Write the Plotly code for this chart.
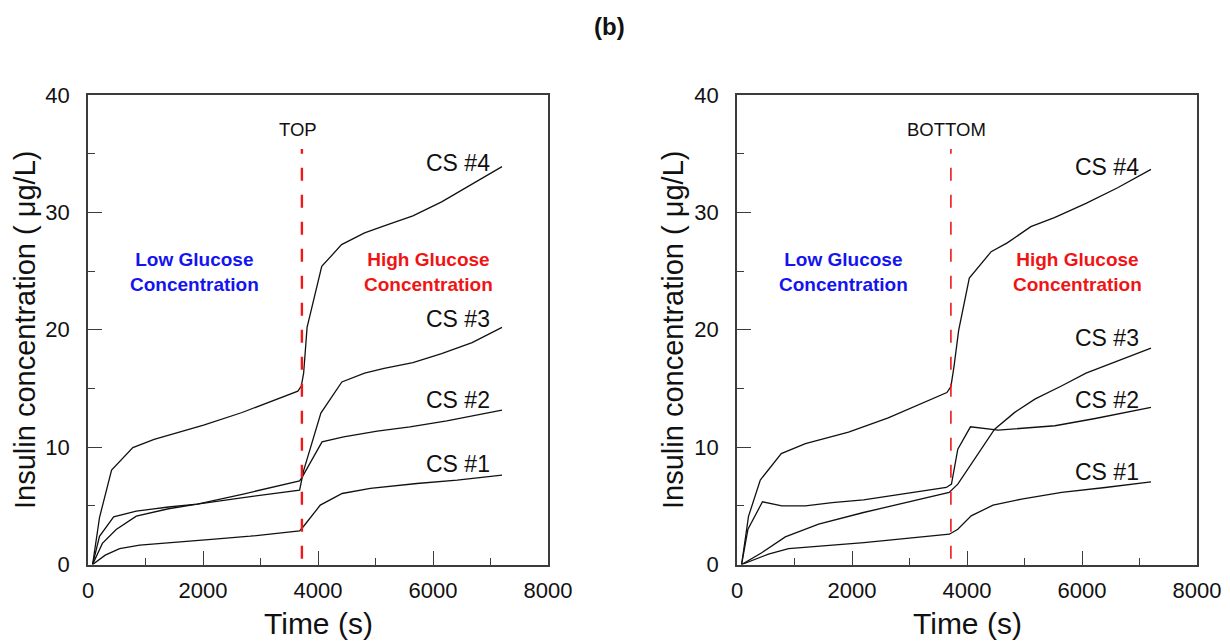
import plotly.graph_objects as go

# ---------------- data ----------------
# TOP panel (left)
top_cs4_x = [80, 200, 410, 780, 1150, 2010, 2680, 3650, 3710, 3750, 3810, 4065, 4410, 4810, 5150, 5650, 6150, 6680, 7200]
top_cs4_y = [0, 4.0, 8.05, 9.96, 10.66, 11.88, 12.95, 14.77, 15.2, 16.3, 20.2, 25.4, 27.25, 28.25, 28.85, 29.7, 30.9, 32.4, 33.9]

top_cs3_x = [80, 200, 446, 840, 1400, 1900, 2700, 3680, 3750, 4050, 4415, 4810, 5150, 5650, 6150, 6680, 7200]
top_cs3_y = [0, 2.4, 4.06, 4.54, 4.9, 5.15, 5.7, 6.33, 8.0, 12.9, 15.55, 16.3, 16.7, 17.2, 17.97, 18.9, 20.2]

top_cs2_x = [80, 250, 490, 840, 1400, 1900, 2700, 3680, 3720, 4070, 4445, 5030, 5600, 6240, 7200]
top_cs2_y = [0, 1.8, 2.98, 4.12, 4.75, 5.15, 6.0, 7.13, 7.4, 10.45, 10.88, 11.36, 11.73, 12.24, 13.15]

top_cs1_x = [80, 300, 550, 900, 2200, 2820, 3680, 3750, 4040, 4420, 4910, 5720, 6420, 7200]
top_cs1_y = [0, 0.8, 1.36, 1.65, 2.16, 2.41, 2.87, 3.26, 5.06, 6.05, 6.48, 6.9, 7.19, 7.61]

# BOTTOM panel (right)
bot_cs4_x = [80, 200, 405, 770, 1190, 1940, 2630, 3650, 3720, 3775, 3855, 4040, 4420, 4700, 5110, 5520, 6070, 6620, 7200]
bot_cs4_y = [0, 4.1, 7.2, 9.45, 10.3, 11.27, 12.49, 14.65, 15.15, 16.9, 19.95, 24.4, 26.65, 27.4, 28.78, 29.55, 30.76, 32.1, 33.66]

bot_cs3_x = [80, 430, 840, 1420, 2200, 3690, 3840, 4480, 4830, 5180, 5650, 6070, 7200]
bot_cs3_y = [0, 1.0, 2.35, 3.44, 4.43, 6.14, 6.85, 11.53, 12.96, 14.09, 15.23, 16.3, 18.43]

bot_cs2_x = [80, 190, 443, 780, 1190, 1655, 2200, 3640, 3730, 3840, 4060, 4540, 5530, 6230, 7200]
bot_cs2_y = [0, 3.0, 5.34, 5.0, 5.0, 5.28, 5.5, 6.56, 6.85, 9.83, 11.73, 11.45, 11.82, 12.44, 13.38]

bot_cs1_x = [80, 547, 897, 2208, 3694, 3840, 4073, 4453, 4948, 5647, 6404, 7200]
bot_cs1_y = [0, 0.88, 1.36, 1.87, 2.58, 3.0, 4.14, 5.06, 5.57, 6.14, 6.56, 7.04]

switch_time = 3720
switch_y = [0.5, 35.4]

series_labels = ["CS #4", "CS #3", "CS #2", "CS #1"]
top_label_y = [34.2, 20.9, 14.0, 8.6]
bot_label_y = [33.9, 19.3, 14.0, 7.9]
label_x = 6430

panel_names = ["TOP", "BOTTOM"]
x_ticks = [0, 2000, 4000, 6000, 8000]
y_ticks = [0, 10, 20, 30, 40]

FONT = "Liberation Sans, Arial, sans-serif"
FRAME = "#3c3c3c"

W, H = 1230, 641


def px(x):
    return x / W


def py(y):
    return 1 - y / H


fig = go.Figure()

panels = [
    ("x", "y", [(top_cs4_x, top_cs4_y), (top_cs3_x, top_cs3_y), (top_cs2_x, top_cs2_y), (top_cs1_x, top_cs1_y)], top_label_y, 2.4),
    ("x2", "y2", [(bot_cs4_x, bot_cs4_y), (bot_cs3_x, bot_cs3_y), (bot_cs2_x, bot_cs2_y), (bot_cs1_x, bot_cs1_y)], bot_label_y, 1.6),
]

C = dict(xanchor="center", yanchor="middle", showarrow=False)

annotations = []
for i, (xa, ya, series, lab_y, dash_w) in enumerate(panels):
    for (sx, sy), name in zip(series, series_labels):
        fig.add_trace(go.Scatter(x=sx, y=sy, mode="lines", xaxis=xa, yaxis=ya, name=name,
                                 line=dict(color="#111111", width=1.3), showlegend=False, hoverinfo="skip"))
    fig.add_trace(go.Scatter(x=[switch_time, switch_time], y=switch_y, mode="lines", xaxis=xa, yaxis=ya,
                             line=dict(color="#f01818", width=dash_w, dash="13px,14px"),
                             showlegend=False, hoverinfo="skip"))
    for name, ly in zip(series_labels, lab_y):
        annotations.append(dict(x=label_x, y=ly, xref=xa, yref=ya, text=name,
                                font=dict(family=FONT, size=23, color="#111111"), **C))
    annotations.append(dict(x=3650, y=37.1, xref=xa, yref=ya, text=panel_names[i],
                            font=dict(family=FONT, size=18.5, color="#111111"), **C))
    annotations.append(dict(x=1850, y=24.9, xref=xa, yref=ya,
                            text="<b>Low Glucose<br>Concentration</b>",
                            font=dict(family=FONT, size=19, color="#1414f0"), **C))
    annotations.append(dict(x=5930, y=24.9, xref=xa, yref=ya,
                            text="<b>High Glucose<br>Concentration</b>",
                            font=dict(family=FONT, size=19, color="#f01414"), **C))

# axis titles as annotations (paper coordinates)
for xc, yc_title_x in [(318, 25), (967, 673)]:
    annotations.append(dict(x=px(xc), y=py(623), xref="paper", yref="paper", text="Time (s)",
                            font=dict(family=FONT, size=30, color="#111111"), **C))
    annotations.append(dict(x=px(yc_title_x), y=py(330), xref="paper", yref="paper",
                            text="Insulin concentration ( μg/L)", textangle=-90,
                            font=dict(family=FONT, size=29, color="#111111"), **C))
annotations.append(dict(x=px(609), y=py(27), xref="paper", yref="paper", text="<b>(b)</b>",
                        font=dict(family=FONT, size=24, color="#111111"), **C))

xaxis_common = dict(range=[0, 8000], tickvals=x_ticks, ticks="inside", ticklen=14, tickwidth=1.3,
                    tickcolor=FRAME, showline=True, linecolor=FRAME, linewidth=1.5, mirror=True,
                    showgrid=False, zeroline=False, ticklabelstandoff=5, automargin=False,
                    tickfont=dict(family=FONT, size=22, color="#111111"),
                    minor=dict(dtick=1000, ticks="inside", ticklen=7, tickwidth=1.3, tickcolor=FRAME, showgrid=False))
yaxis_common = dict(range=[0, 40], tickvals=y_ticks, ticks="inside", ticklen=14, tickwidth=1.3,
                    tickcolor=FRAME, showline=True, linecolor=FRAME, linewidth=1.5, mirror=True,
                    showgrid=False, zeroline=False, ticklabelstandoff=12, automargin=False,
                    tickfont=dict(family=FONT, size=22, color="#111111"),
                    minor=dict(dtick=5, ticks="inside", ticklen=7, tickwidth=1.3, tickcolor=FRAME, showgrid=False))

y_dom = [py(564.5), py(95)]
fig.update_layout(
    template="none",
    width=W, height=H,
    margin=dict(l=0, r=0, t=0, b=0, pad=0, autoexpand=False),
    paper_bgcolor="white", plot_bgcolor="white",
    showlegend=False,
    xaxis=dict(domain=[px(88), px(548)], anchor="y", **xaxis_common),
    yaxis=dict(domain=y_dom, anchor="x", **yaxis_common),
    xaxis2=dict(domain=[px(737), px(1197)], anchor="y2", **xaxis_common),
    yaxis2=dict(domain=y_dom, anchor="x2", **yaxis_common),
    annotations=annotations,
)

fig.write_html(
    "out.html",
    config={"displayModeBar": False},
    post_script="document.body.style.margin='0';document.body.style.overflow='hidden';",
)
